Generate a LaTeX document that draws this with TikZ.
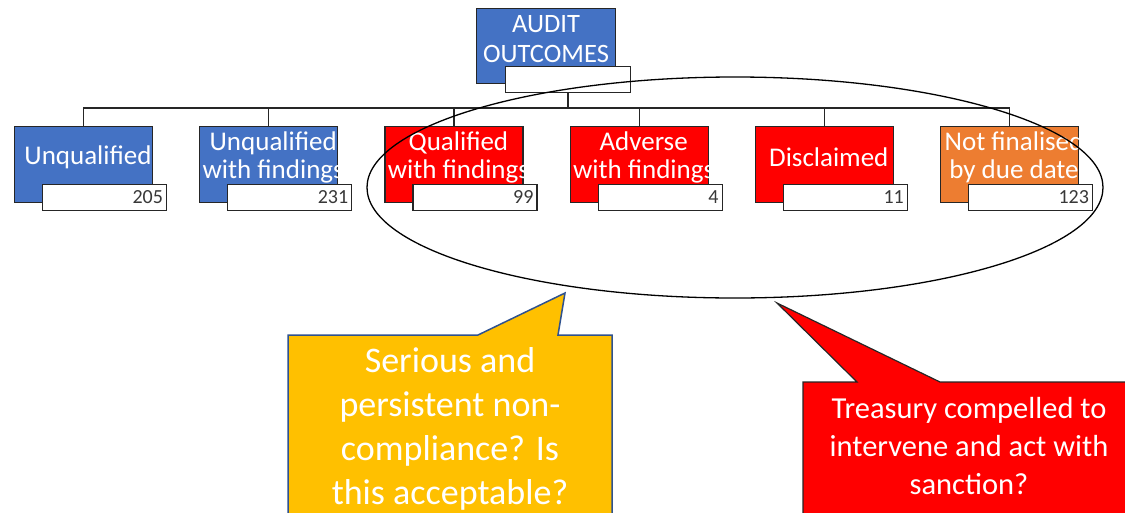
\documentclass[tikz,border=0pt]{standalone}
\usepackage{fontspec}
\setmainfont{Carlito}
\definecolor{ablue}{HTML}{4472C4}
\definecolor{ared}{HTML}{FF0000}
\definecolor{aorange}{HTML}{ED7D31}
\definecolor{ayellow}{HTML}{FFC000}
\definecolor{cborder}{HTML}{2F528F}
\begin{document}
\begin{tikzpicture}[x=1pt,y=-1pt,
  box/.style={draw=black!85, line width=1.2pt, minimum width=138pt, minimum height=76pt, inner sep=0pt, anchor=north west},
  numbox/.style={draw=black!85, fill=white, line width=1.2pt, minimum width=124pt, minimum height=26pt, inner sep=0pt, anchor=north west},
  lbl/.style={text=white, font=\fontsize{27}{28}\selectfont, align=center, inner sep=0pt},
  num/.style={text=black!78, font=\fontsize{20}{22}\selectfont, inner sep=0pt, anchor=east},
  conn/.style={draw=black!85, line width=1.3pt},
  calltxt/.style={text=white, align=center, inner sep=0pt}]
\useasboundingbox (0,0) rectangle (1125,512);
\clip (0,0) rectangle (1125,512);
% top box
\node[box, fill=ablue, minimum width=139pt, minimum height=75pt] (top) at (476,8) {};
\node[lbl, font=\fontsize{26.5}{30}\selectfont] (toptxt) at (546,39.5) {AUDIT\\OUTCOMES};
\node[numbox, minimum width=125pt] (topw) at (505,66) {};
% row boxes
\foreach \i/\c/\t/\n in {1/ablue/{Unqualified}/205, 2/ablue/{Unqualified\\with findings}/231, 3/ared/{Qualified\\with findings}/99, 4/ared/{Adverse\\with findings}/4, 5/ared/{Disclaimed}/11, 6/aorange/{Not finalised\\by due date}/123}{
  \pgfmathsetmacro\L{14+185.2*(\i-1)}
  \node[box, fill=\c] (r\i) at (\L,126) {};
  \begin{scope}
    \clip (r\i.north west) rectangle (r\i.south east);
    \node[lbl] (t\i) at (\L+74,157.5) {\t};
  \end{scope}
  \node[numbox] (w\i) at (\L+28,184) {};
  \node[num] (n\i) at ([xshift=-4pt, yshift=0.5pt]w\i.east) {\n};
}
% connectors
\coordinate (bus) at (0,108);
\draw[conn] (topw.south) -- (topw.south |- bus);
\draw[conn] (r1.north) -- (r1.north |- bus) -- (r6.north |- bus) -- (r6.north);
\foreach \i in {2,3,4,5}{
  \draw[conn] (r\i.north) -- (r\i.north |- bus);
}
% ellipse
\draw[line width=1.3pt] (735,187.5) ellipse [x radius=368pt, y radius=110.5pt];
% yellow callout
\draw[fill=ayellow, draw=cborder, line width=1.5pt] (288,335) -- (478,335) -- (565,293) coordinate (ytip) -- (558,335) -- (612,335) -- (612,530) -- (288,530) -- cycle;
\node[calltxt, font=\fontsize{36}{44}\selectfont] (ytxt) at (450,429) {Serious and\\persistent non-\\compliance? Is\\this acceptable?};
% red callout
\draw[fill=ared, draw=black!85, line width=1.2pt] (803,382) -- (857,382) -- (777,303) coordinate (rtip) -- (940,382) -- (1135,382) -- (1135,530) -- (803,530) -- cycle;
\node[calltxt, font=\fontsize{30.5}{38}\selectfont] (rtxt) at (969,446) {Treasury compelled to\\intervene and act with\\sanction?};
\end{tikzpicture}
\end{document}
